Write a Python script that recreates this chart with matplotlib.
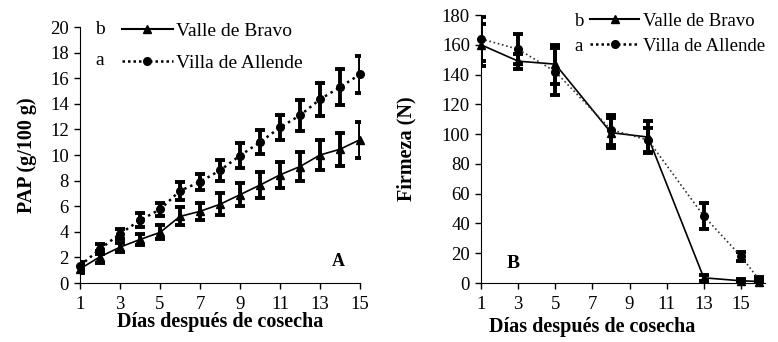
import matplotlib.pyplot as plt
from matplotlib.lines import Line2D

plt.rcParams['font.family'] = ['Liberation Serif', 'DejaVu Serif']

# Panel A: PAP (g/100 g)
dias_a = [1, 2, 3, 4, 5, 6, 7, 8, 9, 10, 11, 12, 13, 14, 15]
valle_pap = [1.1, 2.05, 2.8, 3.4, 3.95, 5.2, 5.6, 6.15, 6.9, 7.65, 8.45, 9.1, 10.0, 10.45, 11.2]
valle_pap_err = [0.3, 0.45, 0.35, 0.45, 0.55, 0.7, 0.65, 0.85, 0.9, 1.0, 1.0, 1.1, 1.2, 1.3, 1.4]
villa_pap = [1.35, 2.65, 3.85, 4.9, 5.75, 7.2, 7.9, 8.8, 9.95, 11.0, 12.15, 13.1, 14.35, 15.3, 16.3]
villa_pap_err = [0.3, 0.4, 0.4, 0.55, 0.5, 0.7, 0.65, 0.8, 0.95, 0.95, 1.0, 1.2, 1.3, 1.4, 1.45]

# Panel B: Firmeza (N)
dias_b = [1, 3, 5, 8, 10, 13, 15, 16]
valle_firm = [160, 149, 147, 101, 98, 3.5, 1.5, 1.0]
valle_firm_err = [14, 5, 13, 10, 11, 2, 1, 1]
villa_firm = [164, 157, 142, 103, 96, 45, 18, 2.0]
villa_firm_err = [15, 10, 16, 10, 8, 8.5, 3, 2]

nombres = ['Valle de Bravo', 'Villa de Allende']
letras = ['b', 'a']

fig = plt.figure(figsize=(7.78, 3.42), dpi=100)
axA = fig.add_axes([0.1028, 0.1725, 0.3599, 0.7485])
axB = fig.add_axes([0.6183, 0.1725, 0.3650, 0.7836])

eb = dict(ecolor='black', elinewidth=2.8, capsize=3.8, capthick=2.8, zorder=2)


def panel(ax, x, y1, e1, y2, e2, villa_color, villa_lw):
    ax.errorbar(x, y1, yerr=e1, fmt='none', **eb)
    ax.errorbar(x, y2, yerr=e2, fmt='none', **eb)
    ax.plot(x, y1, color='black', lw=1.2, marker='^', ms=5.5, zorder=3, clip_on=False)
    ax.plot(x, y2, color=villa_color, lw=villa_lw, ls=(0, (1, 1.6)), marker='o', ms=5.5,
            mfc='black', mec='black', zorder=3, clip_on=False)
    for s in ['top', 'right']:
        ax.spines[s].set_visible(False)
    ax.tick_params(direction='out', length=4.5, width=1, labelsize=13.5)
    ax.tick_params(axis='x', pad=5)
    ax.set_xlabel('Días después de cosecha', fontsize=14.5, fontweight='bold', labelpad=-1)


panel(axA, dias_a, valle_pap, valle_pap_err, villa_pap, villa_pap_err, 'black', 1.8)
axA.set_xlim(1, 15)
axA.set_ylim(0, 20)
axA.set_xticks(range(1, 16, 2))
axA.set_yticks(range(0, 21, 2))
axA.set_ylabel('PAP (g/100 g)', fontsize=14.5, fontweight='bold')
axA.yaxis.set_label_coords(-0.155, 0.5)
axA.text(0.9, 0.065, 'A', transform=axA.transAxes, fontsize=13, fontweight='bold')

panel(axB, dias_b, valle_firm, valle_firm_err, villa_firm, villa_firm_err, '#333333', 1.2)
axB.set_xlim(1, 16.3)
axB.set_ylim(0, 180)
axB.set_xticks(range(1, 16, 2))
axB.set_yticks(range(0, 181, 20))
axB.set_ylabel('Firmeza (N)', fontsize=14.5, fontweight='bold')
axB.yaxis.set_label_coords(-0.226, 0.5)
axB.xaxis.set_label_coords(0.39, -0.125)
axB.text(0.09, 0.055, 'B', transform=axB.transAxes, fontsize=14, fontweight='bold')

handles = [Line2D([], [], color='black', lw=1.5, marker='^', ms=5.5),
           Line2D([], [], color='black', lw=1.8, ls=(0, (1, 1.2)), marker='o', ms=5.5)]

# legend per panel: handle x, letter x, first row y, row step, top of legend box, spacing, font size
leyendas = [(axA, 0.15, 0.055, 0.99, 0.121, 1.02, 0.78, 14),
            (axB, 0.385, 0.33, 0.975, 0.093, 1.008, 0.42, 13.5)]
for ax, hx, lx, y0, dy, ytop, esp, fs in leyendas:
    ax.legend(handles, nombres, loc='upper left', bbox_to_anchor=(hx, ytop), frameon=False,
              fontsize=fs, handlelength=2.6, handletextpad=0.2, labelspacing=esp,
              borderaxespad=0, borderpad=0)
    for i, l in enumerate(letras):
        ax.text(lx, y0 - i * dy, l, transform=ax.transAxes, fontsize=fs, va='center')

fig.savefig('out.png', dpi=100)
